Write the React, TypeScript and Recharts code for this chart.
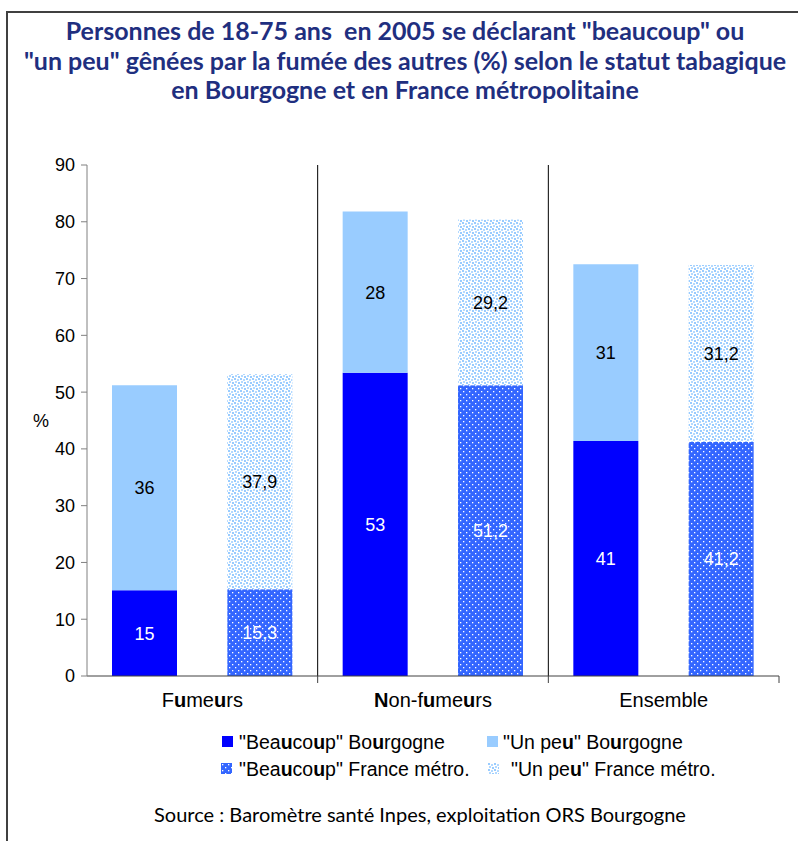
import React from "react";
import {
  Bar,
  BarChart,
  Cell,
  LabelList,
  ReferenceLine,
  XAxis,
  YAxis,
} from "recharts";

// values (% of 18-75 year olds)
const groups = ["Fumeurs", "Non-fumeurs", "Ensemble"];
const regions = ["Bourgogne", "France métro."];
const beaucoupBourgogne = [15.1, 53.4, 41.4];
const unPeuBourgogne = [36.1, 28.4, 31.1];
const beaucoupFrance = [15.3, 51.2, 41.2];
const unPeuFrance = [37.9, 29.2, 31.2];
const yTicks = [0, 10, 20, 30, 40, 50, 60, 70, 80, 90];
const slotTicks = [0, 1, 2, 3, 4, 5, 6];

// bold letters as in the original (Excel-ish highlighting)
const groupLabelParts: [string, boolean][][] = [
  [["F", false], ["u", true], ["me", false], ["u", true], ["rs", false]],
  [["N", true], ["on-f", false], ["u", true], ["me", false], ["u", true], ["rs", false]],
  [["Ensemble", false]],
];

const title = [
  "Personnes de 18-75 ans  en 2005 se déclarant \"beaucoup\" ou",
  "\"un peu\" gênées par la fumée des autres (%) selon le statut tabagique",
  "en Bourgogne et en France métropolitaine",
];
const source = "Source : Baromètre santé Inpes, exploitation ORS Bourgogne";

const BLUE = "#0000FF";
const LIGHT = "#99CCFF";
const FR_BEAUCOUP = "url(#frBeaucoup)";
const FR_UNPEU = "url(#frUnPeu)";
const FONT = "'Liberation Sans', Arial, sans-serif";

const fmtBourgogne = (v: number) => String(Math.round(v));
const fmtFrance = (v: number) => v.toFixed(1).replace(".", ",");

const data = groups.flatMap((g, i) => [
  {
    key: `${g}-B`,
    slot: i * 2 + 0.5,
    region: regions[0],
    beaucoup: beaucoupBourgogne[i],
    unPeu: unPeuBourgogne[i],
    beaucoupLabel: fmtBourgogne(beaucoupBourgogne[i]),
    unPeuLabel: fmtBourgogne(unPeuBourgogne[i]),
  },
  {
    key: `${g}-F`,
    slot: i * 2 + 1.5,
    region: regions[1],
    beaucoup: beaucoupFrance[i],
    unPeu: unPeuFrance[i],
    beaucoupLabel: fmtFrance(beaucoupFrance[i]),
    unPeuLabel: fmtFrance(unPeuFrance[i]),
  },
]);

const legendItems = [
  { fill: BLUE, parts: [["\"Bea", false], ["u", true], ["co", false], ["u", true], ["p\" Bo", false], ["u", true], ["rgogne", false]], x: 222, y: 742, tx: 239 },
  { fill: LIGHT, parts: [["\"Un pe", false], ["u", true], ["\" Bo", false], ["u", true], ["rgogne", false]], x: 487, y: 742, tx: 503 },
  { fill: FR_BEAUCOUP, parts: [["\"Bea", false], ["u", true], ["co", false], ["u", true], ["p\" France métro.", false]], x: 221, y: 769, tx: 239 },
  { fill: FR_UNPEU, parts: [["\"Un pe", false], ["u", true], ["\" France métro.", false]], x: 488, y: 769, tx: 511 },
] as { fill: string; parts: [string, boolean][]; x: number; y: number; tx: number }[];

function GroupTick(props: any) {
  const { x, y, payload } = props;
  const v = payload.value as number;
  if (v % 2 === 0) {
    if (v === 0) return null;
    return <line x1={x} x2={x} y1={y} y2={y + 7} stroke="#404040" strokeWidth={1} />;
  }
  const parts = groupLabelParts[(v - 1) / 2];
  return (
    <text x={x} y={y + 31} textAnchor="middle" fontFamily={FONT} fontSize={20} fill="#000">
      {parts.map(([t, b], i) => (
        <tspan key={i} fontWeight={b ? "bold" : "normal"}>
          {t}
        </tspan>
      ))}
    </text>
  );
}

export default function App() {
  return (
    <div
      style={{
        position: "absolute",
        left: 0,
        top: 0,
        width: 798,
        height: 841,
        overflow: "hidden",
        background: "#fff",
        fontFamily: FONT,
      }}
    >
      <div
        style={{
          position: "absolute",
          left: 6,
          top: 11,
          width: 800,
          height: 900,
          border: "2px solid #404040",
        }}
      />
      <div
        style={{
          position: "absolute",
          left: 12,
          top: 16,
          width: 786,
          textAlign: "center",
          fontFamily: "Lato, sans-serif",
          fontWeight: "bold",
          fontSize: 25,
          lineHeight: "29.5px",
          color: "#1F2F7F",
        }}
      >
        {title.map((t, i) => (
          <div key={i} style={{ whiteSpace: "pre" }}>{t}</div>
        ))}
      </div>

      <div style={{ position: "absolute", left: 0, top: 0 }}>
        <BarChart
          width={798}
          height={841}
          data={data}
          margin={{ top: 165, right: 19, left: 0, bottom: 125 }}
        >
          <defs>
            <pattern id="frBeaucoup" width={6} height={6} patternUnits="userSpaceOnUse">
              <rect width={6} height={6} fill="#3366FF" />
              <rect x={1} y={1} width={1.3} height={1.3} fill="#FFFFFF" />
              <rect x={4} y={4} width={1.3} height={1.3} fill="#FFFFFF" />
            </pattern>
            <pattern id="frUnPeu" width={6} height={6} patternUnits="userSpaceOnUse">
              <rect width={6} height={6} fill="#FFFFFF" />
              <rect x={0} y={0} width={2} height={2} fill="#99CCFF" />
              <rect x={3} y={1} width={2} height={2} fill="#B3D9FF" />
              <rect x={1} y={3} width={2} height={2} fill="#B3D9FF" />
              <rect x={4} y={4} width={2} height={2} fill="#99CCFF" />
            </pattern>
          </defs>
          <XAxis dataKey="key" type="category" hide height={0} />
          <XAxis
            xAxisId="grp"
            dataKey="slot"
            type="number"
            domain={[0, 6]}
            ticks={slotTicks}
            interval={0}
            height={40}
            tickSize={0}
            tickMargin={0}
            tickLine={false}
            axisLine={{ stroke: "#404040", strokeWidth: 1 }}
            tick={<GroupTick />}
          />
          <YAxis
            domain={[0, 90]}
            ticks={yTicks}
            interval={0}
            width={87}
            tickSize={6}
            tickMargin={6}
            axisLine={{ stroke: "#808080", strokeWidth: 1 }}
            tickLine={{ stroke: "#808080", strokeWidth: 1 }}
            tick={{ fill: "#000", fontSize: 18, fontFamily: FONT }}
            label={{ value: "%", position: "insideLeft", offset: 33, fill: "#000", fontSize: 18, fontFamily: FONT }}
          />
          <ReferenceLine xAxisId="grp" x={2} stroke="#000" strokeWidth={1} />
          <ReferenceLine xAxisId="grp" x={4} stroke="#000" strokeWidth={1} />
          <Bar dataKey="beaucoup" stackId="s" barSize={65} isAnimationActive={false}>
            {data.map((d, i) => (
              <Cell key={i} fill={d.region === regions[0] ? BLUE : FR_BEAUCOUP} />
            ))}
            <LabelList dataKey="beaucoupLabel" position="center" fill="#FFFFFF" fontSize={18} fontFamily={FONT} />
          </Bar>
          <Bar dataKey="unPeu" stackId="s" barSize={65} isAnimationActive={false}>
            {data.map((d, i) => (
              <Cell key={i} fill={d.region === regions[0] ? LIGHT : FR_UNPEU} />
            ))}
            <LabelList dataKey="unPeuLabel" position="center" fill="#000000" fontSize={18} fontFamily={FONT} />
          </Bar>
        </BarChart>
      </div>

      {legendItems.map((it, i) => (
        <React.Fragment key={i}>
          <svg
            width={11}
            height={11}
            style={{ position: "absolute", left: it.x, top: it.y - 6 }}
          >
            <rect width={11} height={11} fill={it.fill} />
          </svg>
          <div
            style={{
              position: "absolute",
              left: it.tx,
              top: it.y - 12,
              fontSize: 19.5,
              lineHeight: "24px",
              whiteSpace: "pre",
              color: "#000",
            }}
          >
            {it.parts.map(([t, b], j) => (
              <span key={j} style={{ fontWeight: b ? "bold" : "normal" }}>
                {t}
              </span>
            ))}
          </div>
        </React.Fragment>
      ))}

      <div
        style={{
          position: "absolute",
          left: 0,
          width: 840,
          top: 802,
          textAlign: "center",
          fontFamily: "Lato, sans-serif",
          fontSize: 20,
          lineHeight: "24px",
          color: "#000",
        }}
      >
        {source}
      </div>
    </div>
  );
}
